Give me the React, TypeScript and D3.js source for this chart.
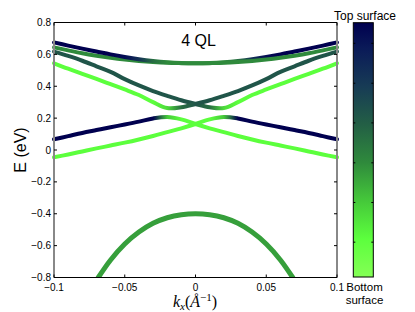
import React from 'react';
import * as d3 from 'd3';

// k grid (1/Angstrom) shared by the surface-state bands
const kGrid = [-0.1, -0.09, -0.08, -0.07, -0.06, -0.05, -0.04, -0.03, -0.02, -0.01, 0,
  0.01, 0.02, 0.03, 0.04, 0.05, 0.06, 0.07, 0.08, 0.09, 0.1];

// energies (eV) of each band along kGrid
const band1 = [0.675, 0.655, 0.636, 0.618, 0.6, 0.584, 0.57, 0.559, 0.551, 0.546, 0.544,
  0.545, 0.547, 0.552, 0.559, 0.568, 0.579, 0.592, 0.607, 0.625, 0.644];
const band2 = [0.644, 0.625, 0.607, 0.592, 0.579, 0.568, 0.559, 0.552, 0.547, 0.545, 0.544,
  0.546, 0.551, 0.559, 0.57, 0.584, 0.6, 0.618, 0.636, 0.655, 0.675];
const band3 = [0.617, 0.59, 0.56, 0.525, 0.49, 0.445, 0.405, 0.37, 0.34, 0.312, 0.289,
  0.268, 0.263, 0.3, 0.345, 0.38, 0.413, 0.446, 0.478, 0.51, 0.544];
const band4 = [0.544, 0.51, 0.478, 0.446, 0.413, 0.38, 0.345, 0.3, 0.263, 0.268, 0.289,
  0.312, 0.34, 0.37, 0.405, 0.445, 0.49, 0.525, 0.56, 0.59, 0.617];
const band5 = [0.067, 0.087, 0.107, 0.125, 0.143, 0.16, 0.178, 0.198, 0.207, 0.192, 0.163,
  0.136, 0.112, 0.088, 0.066, 0.046, 0.028, 0.01, -0.009, -0.028, -0.046];
const band6 = [-0.046, -0.028, -0.009, 0.01, 0.028, 0.046, 0.066, 0.088, 0.112, 0.136, 0.163,
  0.192, 0.207, 0.198, 0.178, 0.16, 0.143, 0.125, 0.107, 0.087, 0.067];

// top-surface weight (1 = top surface, 0 = bottom surface) along kGrid
const weight1 = [1, 1, 1, 1, 1, 0.95, 0.8, 0.55, 0.45, 0.45, 0.45,
  0.45, 0.45, 0.45, 0.45, 0.45, 0.45, 0.45, 0.45, 0.45, 0.45];
const weight2 = [0.45, 0.45, 0.45, 0.45, 0.45, 0.45, 0.45, 0.45, 0.45, 0.45, 0.45,
  0.45, 0.45, 0.55, 0.8, 0.95, 1, 1, 1, 1, 1];
const weight3 = [0.64, 0.64, 0.64, 0.64, 0.64, 0.64, 0.64, 0.64, 0.64, 0.64, 0.64,
  0.55, 0.25, 0.15, 0.15, 0.15, 0.15, 0.15, 0.15, 0.15, 0.15];
const weight4 = [0.15, 0.15, 0.15, 0.15, 0.15, 0.15, 0.15, 0.15, 0.25, 0.55, 0.64,
  0.64, 0.64, 0.64, 0.64, 0.64, 0.64, 0.64, 0.64, 0.64, 0.64];
const weight5 = [1, 1, 1, 1, 1, 1, 1, 1, 0.3, 0.15, 0.15,
  0.15, 0.15, 0.15, 0.15, 0.15, 0.15, 0.15, 0.15, 0.15, 0.15];
const weight6 = [0.15, 0.15, 0.15, 0.15, 0.15, 0.15, 0.15, 0.15, 0.15, 0.15, 0.15,
  0.15, 0.3, 1, 1, 1, 1, 1, 1, 1, 1];

// bulk valence band
const kValence = [-0.0687, -0.06, -0.05, -0.04, -0.03, -0.02, -0.01, 0,
  0.01, 0.02, 0.03, 0.04, 0.05, 0.06, 0.0687];
const eValence = [-0.8, -0.69, -0.59, -0.515, -0.46, -0.425, -0.406, -0.4,
  -0.406, -0.425, -0.46, -0.515, -0.59, -0.69, -0.8];
const valenceWeight = 0.4;

// colormap: bottom surface -> top surface
const cmapPos = [0, 0.15, 0.3, 0.45, 0.6, 0.75, 0.9, 1];
const cmapColors = ['#84ff55', '#5cff3d', '#45c83a', '#2f8a3c', '#235f45', '#173b55', '#0a1a58', '#00004f'];
const cbTicks = [0.137, 0.293, 0.449, 0.606, 0.762, 0.919];

const xTicks = [-0.1, -0.05, 0, 0.05, 0.1];
const yTicks = [0.8, 0.6, 0.4, 0.2, 0, -0.2, -0.4, -0.6, -0.8];

const bands = [
  { e: band5, w: weight5 },
  { e: band6, w: weight6 },
  { e: band3, w: weight3 },
  { e: band4, w: weight4 },
  { e: band2, w: weight2 },
  { e: band1, w: weight1 },
];

const W = 415;
const H = 312;
const plot = { left: 54, right: 337, top: 22.5, bottom: 277.5 };
const cb = { left: 353.3, right: 373.3, top: 22.7, bottom: 277 };
const sans = 'Liberation Sans, Arial, Helvetica, sans-serif';

const App: React.FC = () => {
  const x = d3.scaleLinear().domain([-0.1, 0.1]).range([plot.left, plot.right]);
  const y = d3.scaleLinear().domain([-0.8, 0.8]).range([plot.bottom, plot.top]);
  const color = d3.scaleLinear<string>().domain(cmapPos).range(cmapColors).interpolate(d3.interpolateRgb);
  const cbScale = d3.scaleLinear().domain([0, 1]).range([cb.bottom, cb.top]);

  const line = d3.line<[number, number]>()
    .x(d => x(d[0]))
    .y(d => y(d[1]))
    .curve(d3.curveCatmullRom.alpha(0.5));

  const fmt = d3.format('');
  const tickLen = 3;

  return (
    <svg width={W} height={H} style={{ position: 'absolute', left: 0, top: 0, background: '#fff' }}>
      <defs>
        {bands.map((b, i) => (
          <linearGradient key={i} id={`band${i}`} gradientUnits="userSpaceOnUse"
            x1={x(kGrid[0])} x2={x(kGrid[kGrid.length - 1])} y1={0} y2={0}>
            {kGrid.map((k, j) => (
              <stop key={j} offset={(k - kGrid[0]) / (kGrid[kGrid.length - 1] - kGrid[0])}
                stopColor={color(b.w[j])} />
            ))}
          </linearGradient>
        ))}
        <linearGradient id="cbar" x1={0} y1={1} x2={0} y2={0}>
          {cmapPos.map((p, i) => <stop key={i} offset={p} stopColor={cmapColors[i]} />)}
        </linearGradient>
        <clipPath id="plotClip">
          <rect x={0} y={plot.top} width={W} height={plot.bottom - plot.top} />
        </clipPath>
      </defs>

      {/* valence band */}
      <path d={line(kValence.map((k, i) => [k, eValence[i]] as [number, number])) || ''}
        fill="none" stroke={color(valenceWeight)} strokeWidth={5} strokeLinecap="round"
        clipPath="url(#plotClip)" />

      {/* surface bands */}
      {bands.map((b, i) => (
        <path key={i} d={line(kGrid.map((k, j) => [k, b.e[j]] as [number, number])) || ''}
          fill="none" stroke={`url(#band${i})`} strokeWidth={4} strokeLinecap="round" />
      ))}

      {/* axes box */}
      <line x1={plot.left} x2={plot.right} y1={plot.top} y2={plot.top} stroke="#000" strokeWidth={1} />
      <line x1={plot.left} x2={plot.right} y1={plot.bottom} y2={plot.bottom} stroke="#000" strokeWidth={1} />
      <line x1={plot.left} x2={plot.left} y1={plot.top} y2={plot.bottom} stroke="#888" strokeWidth={2} />
      <line x1={plot.right} x2={plot.right} y1={plot.top} y2={plot.bottom} stroke="#888" strokeWidth={2} />

      {xTicks.map(t => (
        <g key={`x${t}`}>
          <line x1={x(t)} x2={x(t)} y1={plot.bottom} y2={plot.bottom - tickLen} stroke="#000" />
          <line x1={x(t)} x2={x(t)} y1={plot.top} y2={plot.top + tickLen} stroke="#000" />
          <text x={x(t)} y={plot.bottom + 13} fontSize={10} fontFamily={sans} textAnchor="middle" fill="#000">
            {fmt(t)}
          </text>
        </g>
      ))}
      {yTicks.map(t => (
        <g key={`y${t}`}>
          <line x1={plot.left} x2={plot.left + tickLen} y1={y(t)} y2={y(t)} stroke="#000" />
          <line x1={plot.right} x2={plot.right - tickLen} y1={y(t)} y2={y(t)} stroke="#000" />
          <text x={plot.left - 3} y={y(t) + 3.5} fontSize={10} fontFamily={sans} textAnchor="end" fill="#000">
            {fmt(t)}
          </text>
        </g>
      ))}

      <text x={198.5} y={46} fontSize={16} fontFamily={sans} textAnchor="middle">4 QL</text>

      <text transform={`translate(26,${(plot.top + plot.bottom) / 2}) rotate(-90)`} fontSize={16}
        fontFamily={sans} textAnchor="middle">E (eV)</text>

      <text x={195} y={307} fontSize={16} fontFamily="Liberation Serif, Times New Roman, serif" textAnchor="middle">
        <tspan fontStyle="italic">k</tspan>
        <tspan fontStyle="italic" fontSize={11} dy={3}>x</tspan>
        <tspan dy={-3}>(</tspan>
        <tspan fontStyle="italic">Å</tspan>
        <tspan fontSize={11} dy={-6}>−1</tspan>
        <tspan dy={6}>)</tspan>
      </text>

      {/* colorbar */}
      <rect x={cb.left} y={cb.top} width={cb.right - cb.left} height={cb.bottom - cb.top}
        fill="url(#cbar)" stroke="#000" strokeWidth={1} />
      {cbTicks.map(t => (
        <g key={`c${t}`}>
          <line x1={cb.left} x2={cb.left + 2} y1={cbScale(t)} y2={cbScale(t)} stroke="#000" />
          <line x1={cb.right} x2={cb.right - 2} y1={cbScale(t)} y2={cbScale(t)} stroke="#000" />
        </g>
      ))}
      <text x={365} y={20} fontSize={12} fontFamily={sans} textAnchor="middle">Top surface</text>
      <text x={364.5} y={290.5} fontSize={11.5} fontFamily={sans} textAnchor="middle">Bottom</text>
      <text x={364.5} y={303.5} fontSize={11.5} fontFamily={sans} textAnchor="middle">surface</text>
    </svg>
  );
};

export default App;
